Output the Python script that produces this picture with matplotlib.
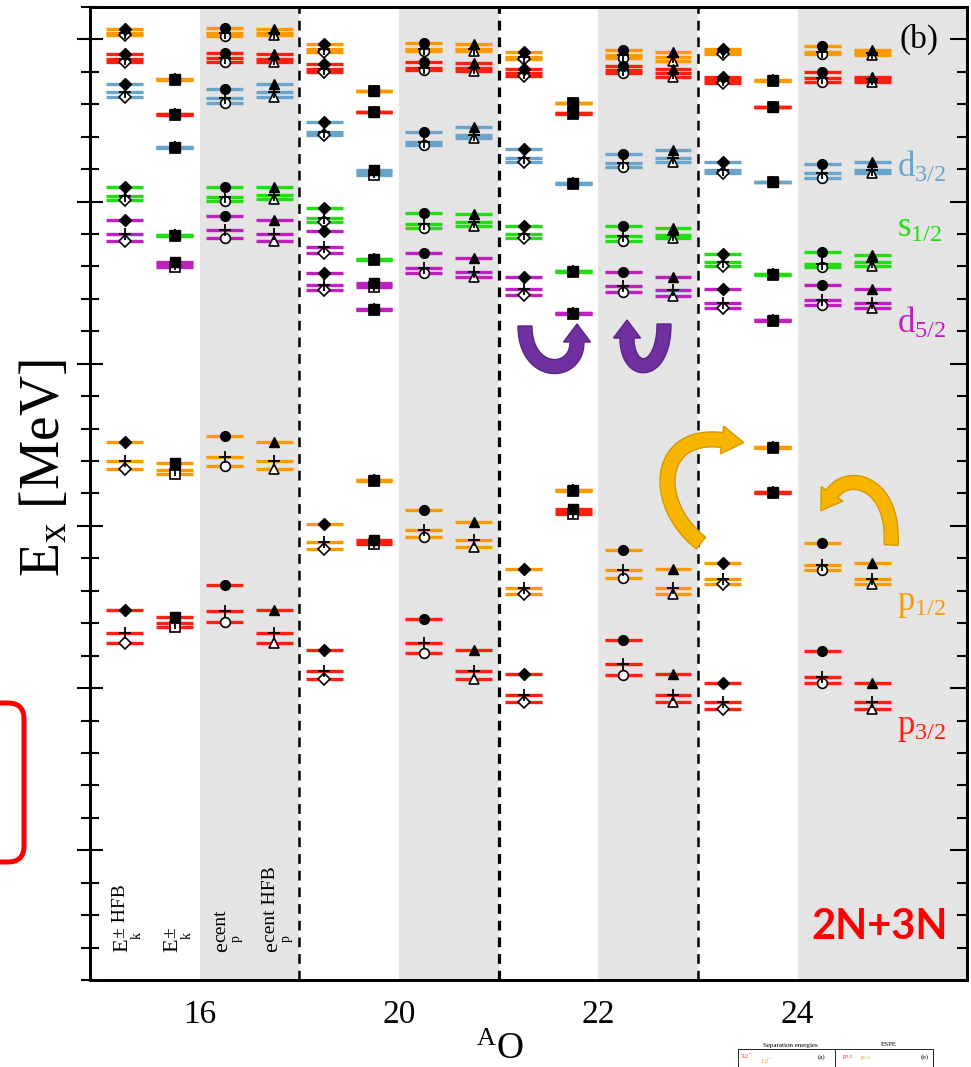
import numpy as np
import matplotlib
matplotlib.use('Agg')
import matplotlib.pyplot as plt
from matplotlib.patches import FancyBboxPatch, Polygon
from matplotlib.transforms import IdentityTransform, offset_copy
from matplotlib.ticker import MultipleLocator

plt.rcParams['font.family'] = 'Liberation Serif'
plt.rcParams['mathtext.fontset'] = 'custom'
plt.rcParams['mathtext.rm'] = 'Liberation Serif'
plt.rcParams['mathtext.it'] = 'Liberation Serif:italic'
plt.rcParams['mathtext.bf'] = 'Liberation Serif:bold'

W, H = 971, 1067

# === datos ===
nuclei = [16, 20, 22, 24]
# etiqueta de cada metodo: (base, subindice, superindice)
method_labels = [('E', 'k', '\u00b1 HFB'), ('E', 'k', '\u00b1'), ('e', 'p', 'cent'), ('e', 'p', 'cent HFB')]
method_markers = ['D', 's', 'o', '^']
nan = np.nan

# columnas: 16O (4 metodos), 20O, 22O, 24O  -> energias en MeV
up_orange_filled = [-4.69, -6.22, -4.66, -4.69, -5.14, -6.58, -5.10, -5.14, -5.40, -6.95, -5.33, -5.40, -5.30, -6.25, -5.19, -5.33]
up_orange_plus   = [-4.81, -6.22, -4.81, -4.81, -5.29, -6.58, -5.29, -5.29, -5.53, -6.95, -5.48, -5.53, -5.40, -6.25, -5.38, -5.41]
up_orange_open   = [-4.87, -6.25, -4.89, -4.87, -5.38, -6.60, -5.35, -5.35, -5.61, -6.97, -5.58, -5.66, -5.46, -6.27, -5.45, -5.48]

up_red_filled = [-5.45, -7.30, -5.41, -5.46, -5.77, -7.23, -5.69, -5.74, -5.91, -7.28, -5.81, -5.92, -6.15, -7.07, -6.01, -6.17]
up_red_plus   = [-5.59, -7.30, -5.58, -5.60, -5.92, -7.23, -5.87, -5.89, -6.03, -7.28, -5.94, -6.04, -6.25, -7.07, -6.20, -6.23]
up_red_open   = [-5.70, -7.32, -5.69, -5.71, -6.00, -7.25, -5.94, -5.96, -6.12, -7.30, -6.04, -6.15, -6.33, -7.09, -6.30, -6.30]

d32_filled = [-6.37, -8.33, -6.53, -6.38, -7.56, -9.03, -7.85, -7.69, -8.38, -9.44, -8.53, -8.41, -8.77, -9.39, -8.85, -8.79]
d32_plus   = [-6.63, -8.33, -6.82, -6.61, -7.85, -9.10, -8.15, -7.95, -8.65, -9.44, -8.82, -8.67, -9.03, -9.39, -9.13, -9.03]
d32_open   = [-6.77, -8.35, -6.95, -6.77, -7.95, -9.18, -8.26, -8.05, -8.77, -9.46, -8.94, -8.79, -9.13, -9.41, -9.26, -9.13]

s12_filled = [-9.54, -11.04, -9.54, -9.54, -10.21, -11.77, -10.36, -10.39, -10.74, -12.14, -10.75, -10.82, -11.62, -12.24, -11.56, -11.65]
s12_plus   = [-9.82, -11.04, -9.85, -9.80, -10.52, -11.77, -10.69, -10.62, -11.01, -12.14, -11.06, -11.03, -11.85, -12.24, -11.93, -11.85]
s12_open   = [-9.95, -11.06, -9.99, -9.93, -10.62, -11.79, -10.82, -10.75, -11.13, -12.16, -11.21, -11.13, -11.99, -12.26, -12.01, -11.98]

d52_filled = [-10.57, -11.85, -10.44, -10.58, -12.19, -12.52, -11.58, -11.73, -12.34, -13.45, -12.16, -12.32, -12.71, -13.65, -12.57, -12.71]
d52_plus   = [-11.01, -11.93, -10.88, -11.01, -12.57, -12.57, -12.04, -12.16, -12.71, -13.45, -12.60, -12.73, -13.14, -13.65, -13.03, -13.12]
d52_open   = [-11.21, -12.01, -11.12, -11.21, -12.73, -12.62, -12.21, -12.33, -12.88, -13.47, -12.80, -12.90, -13.29, -13.67, -13.19, -13.29]

# segundo nivel d5/2 que solo aparece en 20O (E_k)
d52b_filled = [nan, nan, nan, nan, -10.91, -13.31, nan, nan, nan, nan, nan, nan, nan, nan, nan, nan]
d52b_plus   = [nan, nan, nan, nan, -11.39, -13.31, nan, nan, nan, nan, nan, nan, nan, nan, nan, nan]
d52b_open   = [nan, nan, nan, nan, -11.58, -13.33, nan, nan, nan, nan, nan, nan, nan, nan, nan, nan]

p12_filled = [-17.41, -18.05, -17.22, -17.41, -19.94, -18.59, -19.50, -19.87, -21.32, -18.89, -20.74, -21.33, -21.14, -17.57, -20.54, -21.14]
p12_plus   = [-17.99, -18.28, -17.89, -17.99, -20.51, -18.59, -20.14, -20.44, -21.92, -18.89, -21.37, -21.92, -21.64, -17.57, -21.21, -21.64]
p12_open   = [-18.24, -18.40, -18.15, -18.24, -20.72, -18.61, -20.35, -20.66, -22.09, -18.91, -21.60, -22.09, -21.78, -17.59, -21.35, -21.78]

p32_filled = [-22.59, -22.80, -21.82, -22.59, -23.81, -20.44, -22.88, -23.81, -24.57, -19.48, -23.53, -24.57, -24.84, -18.95, -23.86, -24.84]
p32_plus   = [-23.31, -23.00, -22.63, -23.31, -24.48, -20.50, -23.61, -24.48, -25.22, -19.56, -24.26, -25.22, -25.44, -18.95, -24.65, -25.44]
p32_open   = [-23.60, -23.11, -22.97, -23.60, -24.73, -20.57, -23.91, -24.73, -25.44, -19.64, -24.60, -25.44, -25.65, -18.97, -24.84, -25.65]

C_ORANGE = '#f89a00'
C_RED = '#ff1f0f'
C_BLUE = '#6aa4c8'
C_GREEN = '#22dd11'
C_MAG = '#c020c0'

series = [
    (C_ORANGE, up_orange_filled, up_orange_plus, up_orange_open),
    (C_RED, up_red_filled, up_red_plus, up_red_open),
    (C_BLUE, d32_filled, d32_plus, d32_open),
    (C_GREEN, s12_filled, s12_plus, s12_open),
    (C_MAG, d52_filled, d52_plus, d52_open),
    (C_MAG, d52b_filled, d52b_plus, d52b_open),
    (C_ORANGE, p12_filled, p12_plus, p12_open),
    (C_RED, p32_filled, p32_plus, p32_open),
]

orbital_labels = [(r'$\mathrm{d}_{3/2}$', C_BLUE, -9.24),
                  (r'$\mathrm{s}_{1/2}$', C_GREEN, -11.1),
                  (r'$\mathrm{d}_{5/2}$', C_MAG, -14.05),
                  (r'$\mathrm{p}_{1/2}$', C_ORANGE, -22.6),
                  (r'$\mathrm{p}_{3/2}$', C_RED, -26.4)]

# === figura ===
fig = plt.figure(figsize=(W / 100, H / 100), dpi=100)
ax = fig.add_axes([90 / W, 1 - 980 / H, (967 - 90) / W, (980 - 7) / H])
ax.set_xlim(0.3, 17.9)
ax.set_ylim(-34, -4)

xcol = np.arange(16) + 1.0
half = 0.37

# bandas grises y separadores
for g in range(4):
    x0 = 4 * g + 2.5
    x1 = 4 * g + 4.5 if g < 3 else 18.5
    ax.axvspan(x0, x1, color='#e4e4e4', lw=0, zorder=0)
for xd, lw in [(4.5, 1.8), (8.5, 2.3), (12.5, 1.8)]:
    ax.axvline(xd, color='k', lw=lw, ls=(0, (7.0 / lw, 5.0 / lw)), zorder=1)

for color, filled, plus, opn in series:
    filled, plus, opn = np.array(filled), np.array(plus), np.array(opn)
    for vals in (filled, plus, opn):
        ok = ~np.isnan(vals)
        ax.hlines(vals[ok], xcol[ok] - half, xcol[ok] + half, colors=color, lw=2.4, zorder=2)
    for m, mk in enumerate(method_markers):
        idx = np.arange(m, 16, 4)
        ms = {'D': 6.0, 's': 7.0, 'o': 7.0, '^': 7.5}[mk]
        ax.plot(xcol[idx], opn[idx], mk, ls='none', mfc='white', mec='k', mew=1.2, ms=ms, zorder=3)
        ax.plot(xcol[idx], plus[idx], '+', ls='none', color='k', mew=1.3, ms=8, zorder=4)
        ax.plot(xcol[idx], filled[idx], mk, ls='none', color='k', ms=ms, zorder=5)

# etiquetas de metodo (solo en 16O), texto girado con sub/superindice
y_lab = -33.14
for m, (base, sub, sup) in enumerate(method_labels):
    xb = xcol[m] + 0.05
    wbase = (0.611 if base == 'E' else 0.444) * 16
    kw = dict(rotation=90, rotation_mode='anchor', ha='left', va='baseline')
    ax.text(xb, y_lab, base, fontsize=16, **kw)
    ax.text(xb, y_lab, sub, fontsize=10,
            transform=offset_copy(ax.transData, fig, x=9.5, y=wbase, units='points'), **kw)
    ax.text(xb, y_lab, sup, fontsize=14,
            transform=offset_copy(ax.transData, fig, x=-1.5, y=wbase + 0.5, units='points'), **kw)

for lab, col, yv in orbital_labels:
    ax.text(16.49, yv, lab, color=col, fontsize=25, ha='left', va='baseline')

ax.text(16.93, -5.0, '(b)', fontsize=24, ha='center', va='center')
ax.text(16.15, -32.75, '2N+3N', color='#ff0000', fontsize=30, fontweight='bold',
        family='Lato', ha='center', va='baseline')

# ejes
ax.set_xticks([4 * g + 2.5 for g in range(4)])
ax.set_xticklabels([str(n) for n in nuclei], fontsize=24)
ax.tick_params(axis='x', length=0, pad=14)
ax.yaxis.set_major_locator(MultipleLocator(5))
ax.yaxis.set_minor_locator(MultipleLocator(1))
ax.tick_params(axis='y', which='major', direction='inout', length=19, width=1.5, labelleft=False)
ax.tick_params(axis='y', which='minor', direction='inout', length=13, width=1.5)
for sp in ax.spines.values():
    sp.set_linewidth(2.0)

axr = ax.twinx()
axr.set_ylim(ax.get_ylim())
axr.yaxis.set_major_locator(MultipleLocator(5))
axr.yaxis.set_minor_locator(MultipleLocator(1))
axr.tick_params(axis='y', which='major', direction='in', length=12, width=1.5, labelright=False)
axr.tick_params(axis='y', which='minor', direction='in', length=7, width=1.5)
for sp in axr.spines.values():
    sp.set_linewidth(2.0)

fig.text(45 / W, 1 - 468 / H, r'$\mathrm{E}_\mathrm{x}$ [MeV]', rotation=90, fontsize=40,
         ha='center', va='center')
fig.text(500 / W, 1 - 1050 / H, r'$^{\mathrm{A}}\mathrm{O}$', fontsize=27, ha='center', va='center')

# flechas y recuadro (anotaciones en pixeles de la figura)
ident = IdentityTransform()


def curved_arrow(ctrl, tw, hw, hl, fc, ec):
    # flecha gruesa a lo largo de una bezier cubica (puntos en pixeles, y hacia abajo)
    t = np.linspace(0, 1, 80)[:, None]
    P = [np.array([x, H - y], float) for x, y in ctrl]
    B = (1 - t)**3 * P[0] + 3 * (1 - t)**2 * t * P[1] + 3 * (1 - t) * t**2 * P[2] + t**3 * P[3]
    dB = 3 * (1 - t)**2 * (P[1] - P[0]) + 6 * (1 - t) * t * (P[2] - P[1]) + 3 * t**2 * (P[3] - P[2])
    T = dB / np.linalg.norm(dB, axis=1, keepdims=True)
    N = np.column_stack([-T[:, 1], T[:, 0]])
    left, right = B + N * tw / 2, B - N * tw / 2
    tip = B[-1] + T[-1] * hl
    poly = np.vstack([left, B[-1] + N[-1] * hw / 2, tip, B[-1] - N[-1] * hw / 2, right[::-1]])
    fig.add_artist(Polygon(poly, closed=True, transform=ident, fc=fc, ec=ec, lw=1.0, zorder=10))


PURPLE, PURPLE_E = '#7030a0', '#5a2585'
GOLD, GOLD_E = '#f7b500', '#d49a00'
curved_arrow([(525, 326), (525, 377), (577, 377), (577, 342)], 14, 27, 18, PURPLE, PURPLE_E)
curved_arrow([(664, 324), (664, 377), (627, 377), (627, 338)], 14, 27, 18, PURPLE, PURPLE_E)
curved_arrow([(701, 543), (652, 505), (655, 432), (722, 440)], 15, 28, 22, GOLD, GOLD_E)
curved_arrow([(891, 545), (895, 482), (848, 470), (832, 494)], 14, 26, 20, GOLD, GOLD_E)

box = FancyBboxPatch((-30, H - 862), 54, 159, boxstyle='round,pad=0,rounding_size=16',
                     transform=ident, fc='none', ec='#ff0000', lw=3.6)
fig.add_artist(box)

# miniatura recortada abajo a la derecha
fig.text(790 / W, 1 - 1045 / H, 'Separation energies', fontsize=5, ha='center', va='center')
fig.text(889 / W, 1 - 1045 / H, 'ESPE', fontsize=5, ha='center', va='center')
fig.text(822 / W, 1 - 1057 / H, '(a)', fontsize=5, ha='center', va='center')
fig.text(925 / W, 1 - 1057 / H, '(b)', fontsize=5, ha='center', va='center')
fig.text(746 / W, 1 - 1056 / H, r'$3/2^{-}$', fontsize=4.5, color=C_RED, ha='center', va='center')
fig.text(766 / W, 1 - 1061 / H, r'$1/2^{-}$', fontsize=4.5, color=C_ORANGE, ha='center', va='center')
fig.text(848 / W, 1 - 1057 / H, r'$\mathrm{p}_{3/2}$', fontsize=5, color=C_RED, ha='center', va='center')
fig.text(866 / W, 1 - 1058 / H, r'$\mathrm{p}_{1/2}$', fontsize=5, color=C_ORANGE, ha='center', va='center')
fig.add_artist(plt.Line2D([738, 933, 933], [H - 1049, H - 1049, 0], transform=ident, color='k', lw=0.6))
fig.add_artist(plt.Line2D([738, 738], [H - 1049, 0], transform=ident, color='k', lw=0.6))
fig.add_artist(plt.Line2D([835, 835], [H - 1049, 0], transform=ident, color='k', lw=0.6))

fig.savefig('out.png', dpi=100)
